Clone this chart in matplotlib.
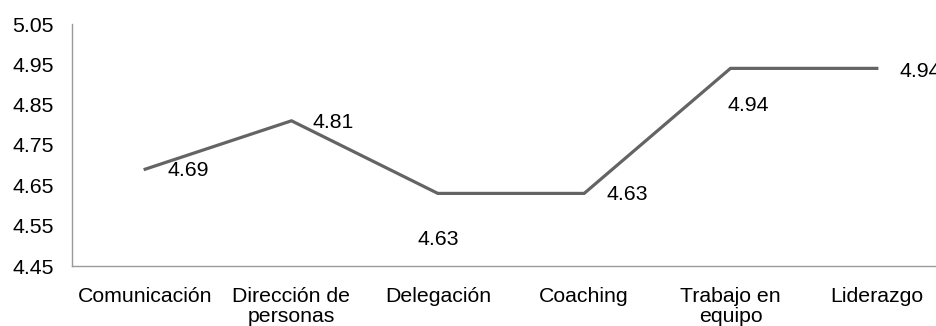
import matplotlib
matplotlib.use("Agg")
import matplotlib.pyplot as plt
from matplotlib.ticker import FormatStrFormatter

plt.rcParams['font.family'] = ['Liberation Sans', 'DejaVu Sans']

categories = ["Comunicación", "Dirección de\npersonas", "Delegación", "Coaching",
              "Trabajo en\nequipo", "Liderazgo"]
scores = [4.69, 4.81, 4.63, 4.63, 4.94, 4.94]
y_ticks = [4.45, 4.55, 4.65, 4.75, 4.85, 4.95, 5.05]

fs = 15.3

fig = plt.figure(figsize=(9.36, 3.26), dpi=100)
# axes runs past the right edge of the figure, like the original
ax = fig.add_axes([72 / 936, 60 / 326, 878 / 936, 242 / 326])

x = list(range(len(categories)))
ax.plot(x, scores, color='#646464', linewidth=2.3, solid_joinstyle='miter')

# label offsets in pixels from each point
offsets = [(22, -1, 'left'), (21, -2, 'left'), (0, -46, 'center'),
           (22, -1, 'left'), (-3, -37, 'left'), (23, -3, 'left')]
for xi, v, (dx, dy, ha) in zip(x, scores, offsets):
    ax.annotate(f"{v:.2f}", (xi, v), xytext=(dx, dy), textcoords='offset pixels',
                ha=ha, va='center', fontsize=fs, color='black',
                annotation_clip=False)

ax.set_xlim(-0.5, len(categories) - 0.5)
ax.set_ylim(4.45, 5.05)
ax.set_yticks(y_ticks)
ax.yaxis.set_major_formatter(FormatStrFormatter('%.2f'))
ax.set_xticks(x)
ax.set_xticklabels(categories, fontsize=fs, multialignment='center', linespacing=1.1)
ax.tick_params(axis='y', length=0, pad=13, labelsize=fs)
ax.tick_params(axis='x', length=0, pad=15)

for side in ['top', 'right']:
    ax.spines[side].set_visible(False)
for side in ['left', 'bottom']:
    ax.spines[side].set_color('#9a9a9a')
    ax.spines[side].set_linewidth(1)

fig.savefig("out.png", dpi=100)
